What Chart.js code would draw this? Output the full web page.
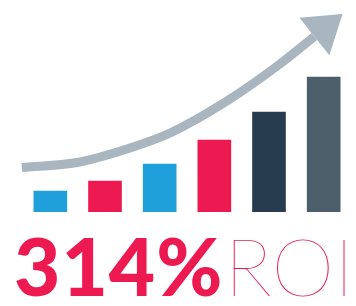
<!DOCTYPE html>
<html>
<head>
<meta charset="utf-8">
<script src="https://cdn.jsdelivr.net/npm/chart.js@4"></script>
<style>
  html, body { margin: 0; padding: 0; background: #ffffff; }
  #wrap { position: relative; width: 356px; height: 306px; overflow: hidden; background: #fff; }
  #chartBox { position: absolute; left: 0; top: 0; width: 356px; height: 212px; }
  #label { position: absolute; left: 14px; top: 215px; white-space: nowrap; color: #ED1A52; font-size: 80px; line-height: 100px; }
  #label .big { font-family: Lato, sans-serif; font-weight: 900; letter-spacing: 1px; }
  #label .thin { font-family: Lato, sans-serif; font-weight: 200; margin-left: 1px; }
</style>
</head>
<body>
<div id="wrap">
  <div id="chartBox"><canvas id="c" width="356" height="212"></canvas></div>
  <div id="label"><span class="big">314%</span><span class="thin">ROI</span></div>
</div>
<script>
// ---- data ----
const categories = ["1", "2", "3", "4", "5", "6"];
const barValues = [21, 31, 48, 72, 100, 135];
const barColors = ["#20A0DA", "#ED1A52", "#20A0DA", "#ED1A52", "#283C50", "#4E5F6C"];
const arrowX = [-0.52, 0.49, 1.40, 2.19, 3.23, 4.20, 4.83];
const arrowY = [44.5, 49.5, 63, 79, 111, 148, 175.5];
const yMax = 212;

const arrowColor = "#A9B5BF";

const arrowHeadPlugin = {
  id: "arrowHead",
  afterDatasetsDraw(chart) {
    const meta = chart.getDatasetMeta(1);
    const pts = meta.data;
    if (!pts || pts.length < 2) return;
    const p = pts[pts.length - 1];
    let dx, dy;
    if (p.cp1x !== undefined && (Math.abs(p.cp1x - p.x) + Math.abs(p.cp1y - p.y)) > 0.5) {
      dx = p.x - p.cp1x; dy = p.y - p.cp1y;
    } else {
      const q = pts[pts.length - 2];
      dx = p.x - q.x; dy = p.y - q.y;
    }
    const len = Math.hypot(dx, dy);
    const ux = dx / len, uy = dy / len;
    const headLen = 36, halfW = 24;
    const ctx = chart.ctx;
    ctx.save();
    ctx.fillStyle = arrowColor;
    ctx.beginPath();
    ctx.moveTo(p.x + ux * headLen, p.y + uy * headLen);
    ctx.lineTo(p.x - uy * halfW, p.y + ux * halfW);
    ctx.lineTo(p.x + uy * halfW, p.y - ux * halfW);
    ctx.closePath();
    ctx.fill();
    ctx.restore();
  }
};

new Chart(document.getElementById("c"), {
  data: {
    labels: categories,
    datasets: [
      {
        type: "bar",
        data: barValues,
        backgroundColor: barColors,
        borderWidth: 0,
        barThickness: 33,
        grouped: false,
        xAxisID: "x",
        yAxisID: "y",
        order: 2
      },
      {
        type: "line",
        data: arrowX.map((x, i) => ({ x: x, y: arrowY[i] })),
        borderColor: arrowColor,
        borderWidth: 9,
        borderCapStyle: "butt",
        pointRadius: 0,
        fill: false,
        cubicInterpolationMode: "monotone",
        clip: false,
        xAxisID: "xa",
        yAxisID: "y",
        order: 1
      }
    ]
  },
  options: {
    responsive: false,
    animation: false,
    layout: { padding: { left: 23, right: 5, top: 0, bottom: 0 } },
    plugins: { legend: { display: false }, tooltip: { enabled: false }, title: { display: false } },
    scales: {
      x: { type: "category", display: false, offset: true },
      xa: { type: "linear", display: false, min: -0.5, max: 5.5 },
      y: { type: "linear", display: false, min: 0, max: yMax }
    }
  },
  plugins: [arrowHeadPlugin]
});
</script>
</body>
</html>
